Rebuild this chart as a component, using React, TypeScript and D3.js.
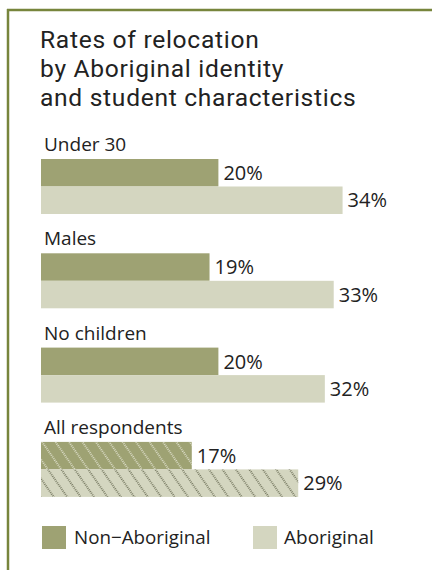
import React from "react";
import * as d3 from "d3";

const categories = ["Under 30", "Males", "No children", "All respondents"];
const nonAboriginal = [20, 19, 20, 17];
const aboriginal = [34, 33, 32, 29];
const seriesNames = ["Non\u2212Aboriginal", "Aboriginal"];
const titleLines = ["Rates of relocation", "by Aboriginal identity", "and student characteristics"];

const W = 432;
const H = 570;
const FONT = "'Open Sans', sans-serif";
const TITLE_FONT = "Roboto, sans-serif";
const C_NA = "#9ea273";
const C_AB = "#d4d6c0";
const C_BORDER = "#77853c";
const C_TEXT = "#222222";

export default function App() {
  const x = d3.scaleLinear().domain([0, 40]).range([41, 41 + 40 * 8.87]);
  const y = d3.scaleBand<string>().domain(categories).range([159, 159 + 4 * 94.3]).padding(0);
  const barH = 27.5;
  const lastIdx = categories.length - 1;

  return (
    <div style={{ position: "absolute", left: 0, top: 0 }}>
      <svg width={W} height={H} style={{ display: "block" }}>
        <defs>
          <pattern id="hatchLight" patternUnits="userSpaceOnUse" width="11" height="12" patternTransform="rotate(-35)">
            <line x1="1" y1="0" x2="1" y2="12" stroke="#f4f4ea" strokeWidth="1.3" strokeDasharray="1 1" />
          </pattern>
          <pattern id="hatchDark" patternUnits="userSpaceOnUse" width="11" height="12" patternTransform="rotate(-35)">
            <line x1="1" y1="0" x2="1" y2="12" stroke="#4f523a" strokeWidth="1.3" strokeDasharray="1 1" />
          </pattern>
        </defs>
        <rect x={0} y={0} width={W} height={H} fill="#ffffff" />
        <line x1={7} x2={W} y1={10} y2={10} stroke={C_BORDER} strokeWidth={2.5} />
        <line x1={8} x2={8} y1={9} y2={H} stroke={C_BORDER} strokeWidth={2.5} />

        {titleLines.map((t, i) => (
          <text key={i} x={40} y={48 + i * 29} fontFamily={TITLE_FONT} fontSize={24.6} letterSpacing={0.7} fill={C_TEXT}>{t}</text>
        ))}

        {categories.map((c, i) => {
          const y0 = y(c) as number;
          const hatch = i === lastIdx;
          return (
            <g key={c}>
              <text x={44} y={y0 - 8} fontFamily={FONT} fontSize={19} fill={C_TEXT}>{c}</text>
              <rect x={x(0)} y={y0} width={x(nonAboriginal[i]) - x(0)} height={barH} fill={C_NA} />
              {hatch && <rect x={x(0)} y={y0} width={x(nonAboriginal[i]) - x(0)} height={barH} fill="url(#hatchLight)" />}
              <rect x={x(0)} y={y0 + barH} width={x(aboriginal[i]) - x(0)} height={barH} fill={C_AB} />
              {hatch && <rect x={x(0)} y={y0 + barH} width={x(aboriginal[i]) - x(0)} height={barH} fill="url(#hatchDark)" />}
              <text x={x(nonAboriginal[i]) + 5} y={y0 + barH / 2} dy="0.36em" fontFamily={FONT} fontSize={20} fill={C_TEXT}>{nonAboriginal[i]}%</text>
              <text x={x(aboriginal[i]) + 5} y={y0 + barH * 1.5} dy="0.36em" fontFamily={FONT} fontSize={20} fill={C_TEXT}>{aboriginal[i]}%</text>
            </g>
          );
        })}

        <g>
          <rect x={42} y={526} width={24} height={23} fill={C_NA} />
          <text x={74} y={544} fontFamily={FONT} fontSize={18.8} fill={C_TEXT}>{seriesNames[0]}</text>
          <rect x={253} y={526} width={24} height={23} fill={C_AB} />
          <text x={284} y={544} fontFamily={FONT} fontSize={19} fill={C_TEXT}>{seriesNames[1]}</text>
        </g>
      </svg>
    </div>
  );
}
